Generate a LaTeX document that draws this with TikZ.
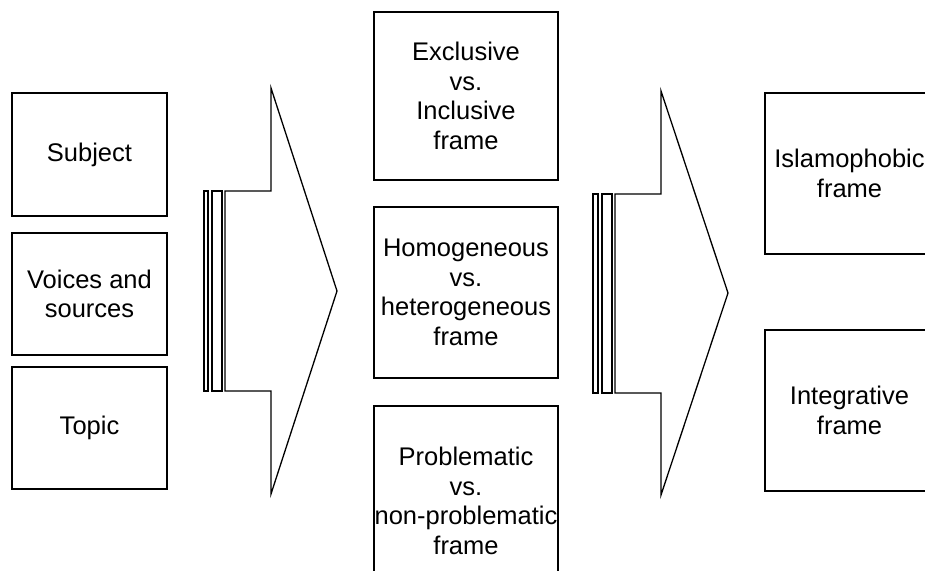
\documentclass[tikz,border=0pt]{standalone}
\usepackage{fontspec}
\setmainfont{Liberation Sans}
\begin{document}
\begin{tikzpicture}[x=1pt,y=-1pt,
  box/.style={draw=black,line width=1.3pt,fill=white,inner sep=0pt,outer sep=0pt,align=center,
    font=\fontsize{25.5}{29.5}\selectfont},
  blockarrow/.style={draw=black,line width=1.3pt,fill=white,line join=miter}]
\useasboundingbox (0,0) rectangle (925,570);
% left column
\node[box,minimum width=155pt,minimum height=123pt] (subj) at (89.5,154.5) {Subject};
\node[box,minimum width=155pt,minimum height=122pt] (voic) at (89.5,294) {Voices and\\sources};
\node[box,minimum width=155pt,minimum height=122pt] (topi) at (89.5,428) {Topic};
% middle column
\node[box,minimum width=184pt,minimum height=168pt] (excl) at (466,96) {Exclusive\\vs.\\Inclusive\\frame};
\node[box,minimum width=184pt,minimum height=171pt] (homo) at (466,292.5) {Homogeneous\\vs.\\heterogeneous\\frame};
\node[box,minimum width=184pt,minimum height=190pt] (prob) at (466,501) {Problematic\\vs.\\non-problematic\\frame};
% right column
\node[box,minimum width=169pt,minimum height=161pt] (isla) at (849.5,173.5) {Islamophobic\\frame};
\node[box,minimum width=169pt,minimum height=161pt] (inte) at (849.5,410.5) {Integrative\\frame};
% block arrow 1
\draw[blockarrow] (204,191) rectangle (208,391);
\draw[blockarrow] (212,191) rectangle (222,391);
\draw[blockarrow] (225,191) -- (271,191) -- (271,88) -- (337,291) -- (271,494) -- (271,391) -- (225,391) -- cycle;
% block arrow 2
\draw[blockarrow] (593,194) rectangle (598,393);
\draw[blockarrow] (602,194) rectangle (612,393);
\draw[blockarrow] (615,194) -- (661,194) -- (661,91) -- (728,293) -- (661,495) -- (661,393) -- (615,393) -- cycle;
\end{tikzpicture}
\end{document}
